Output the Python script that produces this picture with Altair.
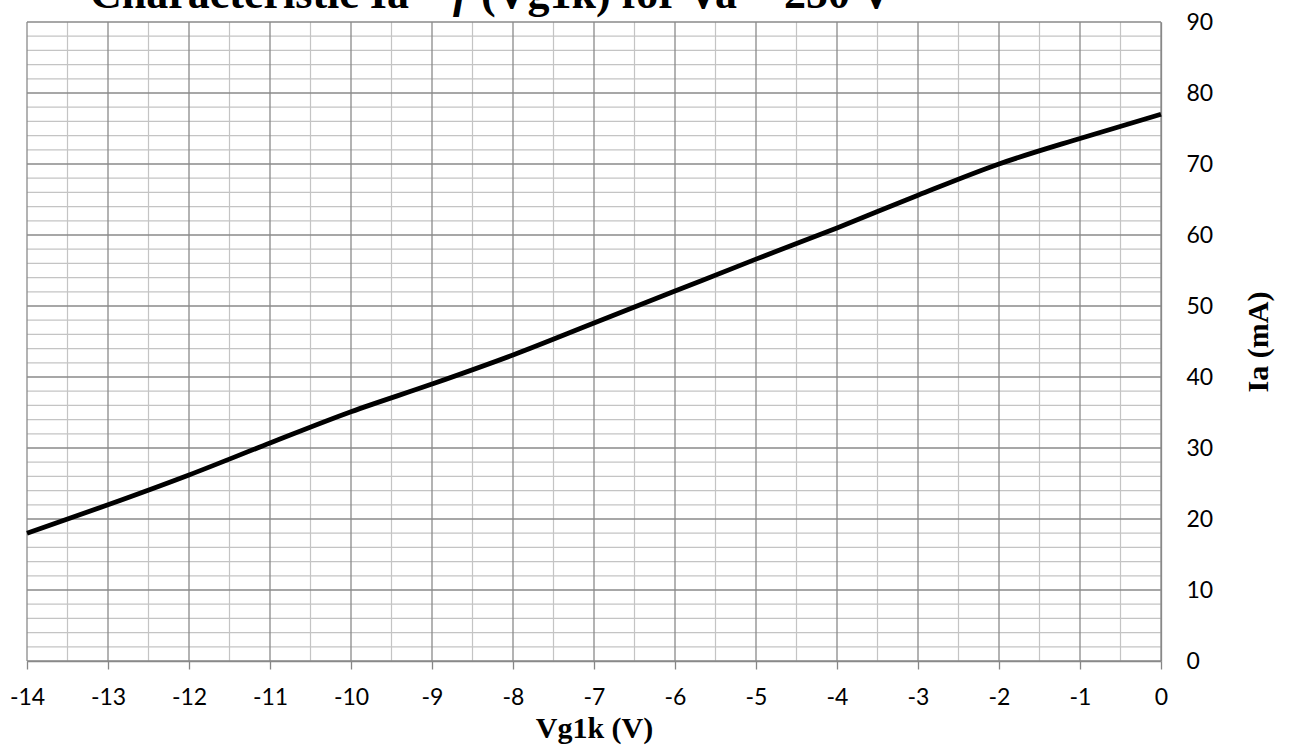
import altair as alt
import pandas as pd

# Transfer characteristic: grid voltage vs anode current
vg1k = [-14, -13, -12, -11, -10, -9, -8, -7, -6, -5, -4, -3, -2, -1, 0]
ia = [18.0, 22.0, 26.2, 30.7, 35.1, 39.0, 43.1, 47.6, 52.1, 56.6, 61.0, 65.6, 70.0, 73.6, 77.0]

x_major = list(range(-14, 1))
x_minor = [v + 0.5 for v in range(-14, 0)]
y_major = list(range(0, 91, 10))
y_minor = [v for v in range(0, 91, 2) if v % 10]

title_left = "Characteristic Ia ="
title_mid = "f"
title_right = "(Vg1k) for Va = 250 V"

curve = pd.DataFrame({"vg1k": vg1k, "ia": ia})

W, H = 1134, 639
GRID_MAJOR = "#8a8a8a"
GRID_MINOR = "#c4c4c4"
AXIS_GREY = "#868686"

xs = alt.Scale(domain=[-14, 0], nice=False, zero=False)
ys = alt.Scale(domain=[0, 90], nice=False, zero=True)

x_axis = alt.Axis(
    values=x_major, grid=False, title="Vg1k (V)",
    labelExpr="'' + datum.value",
    labelFont="Lato", labelFontSize=23, labelColor="black", labelPadding=17,
    labelFlush=False, tickSize=8, tickColor=AXIS_GREY, tickWidth=1.3,
    domainColor=AXIS_GREY, domainWidth=1.3,
    titleFont="Liberation Serif", titleFontSize=30, titleFontWeight="bold",
    titleColor="black", titlePadding=4,
)
y_axis = alt.Axis(
    values=y_major, orient="right", grid=False, ticks=False, title="Ia (mA)",
    labelExpr="'' + datum.value",
    labelFont="Lato", labelFontSize=23, labelColor="black", labelPadding=25,
    labelAlign="left", labelFlush=False,
    domainColor=AXIS_GREY, domainWidth=1.3,
    titleFont="Liberation Serif", titleFontSize=30, titleFontWeight="bold",
    titleColor="black", titleAngle=270, titlePadding=61,
)


def vlines(vals, color, width):
    return alt.Chart(pd.DataFrame({"vg1k": vals})).mark_rule(
        color=color, strokeWidth=width
    ).encode(x=alt.X("vg1k:Q", scale=xs, axis=x_axis))


def hlines(vals, color, width):
    return alt.Chart(pd.DataFrame({"ia": vals})).mark_rule(
        color=color, strokeWidth=width
    ).encode(y=alt.Y("ia:Q", scale=ys, axis=y_axis))


line = alt.Chart(curve).mark_line(
    color="black", strokeWidth=4.8, interpolate="monotone"
).encode(
    x=alt.X("vg1k:Q", scale=xs, axis=x_axis),
    y=alt.Y("ia:Q", scale=ys, axis=y_axis),
)

# Chart heading sits above the plot, running off the top edge
title_df = pd.DataFrame({"a": [title_left], "b": [title_mid], "c": [title_right]})
title_base = alt.Chart(title_df)
t_font = dict(font="Liberation Serif", fontSize=44, fontWeight="bold", color="black",
              baseline="alphabetic")
TY = -14
t1 = title_base.mark_text(align="right", **t_font).encode(
    text="a:N", x=alt.value(418), y=alt.value(TY))
t2 = title_base.mark_text(align="left", fontStyle="italic", **t_font).encode(
    text="b:N", x=alt.value(426), y=alt.value(TY))
t3 = title_base.mark_text(align="left", **t_font).encode(
    text="c:N", x=alt.value(454), y=alt.value(TY))

chart = alt.layer(
    vlines(x_minor, GRID_MINOR, 1.2),
    hlines(y_minor, GRID_MINOR, 1.2),
    vlines(x_major, GRID_MAJOR, 1.3),
    hlines(y_major, GRID_MAJOR, 1.3),
    line, t1, t2, t3,
).properties(
    width=W, height=H,
    autosize=alt.AutoSizeParams(type="none"),
    padding={"left": 27, "top": 22, "right": 128, "bottom": 86},
    background="white",
).configure_view(stroke=None)

chart.save("out.html", embed_options={"renderer": "svg", "actions": False})
